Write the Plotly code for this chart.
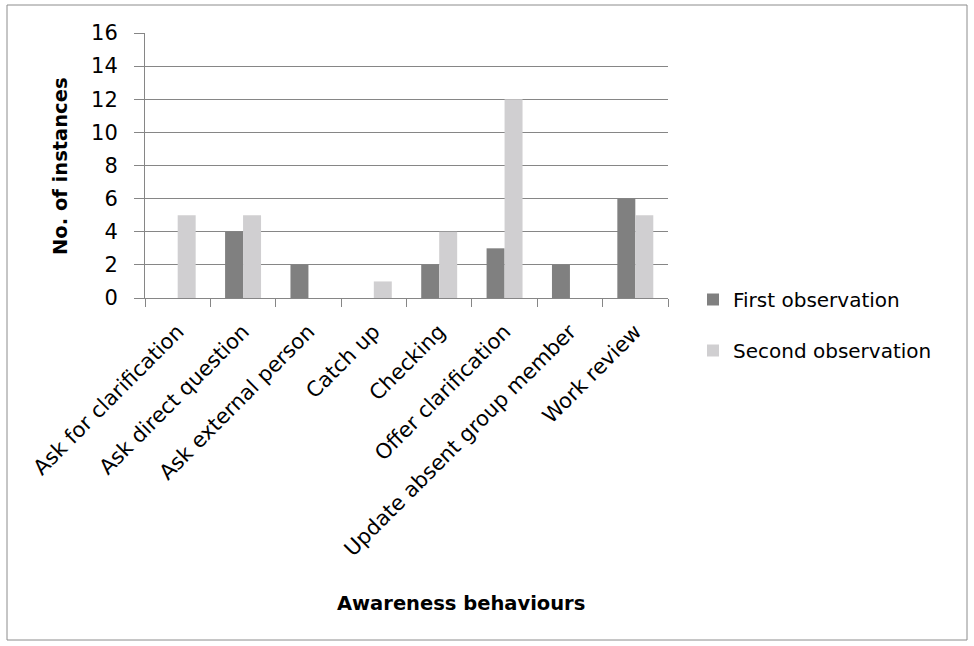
import plotly.graph_objects as go

categories = ["Ask for clarification", "Ask direct question", "Ask external person",
              "Catch up", "Checking", "Offer clarification",
              "Update absent group member", "Work review"]
first_obs = [0, 4, 2, 0, 2, 3, 2, 6]
second_obs = [5, 5, 0, 1, 4, 12, 0, 5]
y_ticks = [0, 2, 4, 6, 8, 10, 12, 14, 16]
x_title = "Awareness behaviours"
y_title = "No. of instances"

FONT = "DejaVu Sans"
L, R, T, B = 145, 668, 33, 298
W, H = 974, 646
PW, PH = R - L, B - T


def px_x(x):
    return (x - L) / PW


def px_y(y):
    return (B - y) / PH


fig = go.Figure()
fig.add_trace(go.Bar(x=categories, y=first_obs, name="First observation",
                     marker=dict(color="#808080", line=dict(width=0)),
                     legendgroup="a"))
fig.add_trace(go.Bar(x=categories, y=second_obs, name="Second observation",
                     marker=dict(color="#D0CFD1", line=dict(width=0)),
                     legendgroup="b"))

fig.update_layout(
    width=W, height=H,
    margin=dict(l=L, r=W - R, t=T, b=H - B),
    paper_bgcolor="white", plot_bgcolor="white",
    barmode="group", bargap=0.45, bargroupgap=0,
    font=dict(family=FONT, size=20, color="black"),
    showlegend=True,
    legend=dict(x=px_x(693), y=px_y(280), xanchor="left", yanchor="top",
                traceorder="grouped", tracegroupgap=22,
                font=dict(size=20), itemwidth=30, bgcolor="rgba(0,0,0,0)"),
    shapes=[dict(type="rect", xref="paper", yref="paper",
                 x0=px_x(7), x1=px_x(967), y0=px_y(640), y1=px_y(5),
                 line=dict(color="#8C8C8C", width=1))],
    annotations=[
        dict(text="<b>%s</b>" % x_title, xref="paper", yref="paper",
             x=px_x(461), y=px_y(603), xanchor="center", yanchor="middle",
             showarrow=False, font=dict(size=19.5, family=FONT)),
        dict(text="<b>%s</b>" % y_title, xref="paper", yref="paper",
             x=px_x(60), y=px_y(166), xanchor="center", yanchor="middle",
             textangle=-90, showarrow=False, font=dict(size=19.5, family=FONT)),
    ],
)
fig.update_xaxes(
    type="category", showline=True, linecolor="#868686", linewidth=1,
    ticks="outside", tickson="boundaries", ticklen=8, tickcolor="#868686",
    tickangle=-45, tickfont=dict(size=21), automargin=False,
    ticklabelstandoff=12, showgrid=False,
)
fig.update_yaxes(
    range=[0, 16], tickvals=y_ticks, showline=True, linecolor="#868686", linewidth=1,
    ticks="outside", ticklen=10, tickcolor="#868686",
    showgrid=True, gridcolor="#868686", gridwidth=1, zeroline=False,
    tickfont=dict(size=21), automargin=False, ticklabelstandoff=12,
)
fig.write_html("out.html")
